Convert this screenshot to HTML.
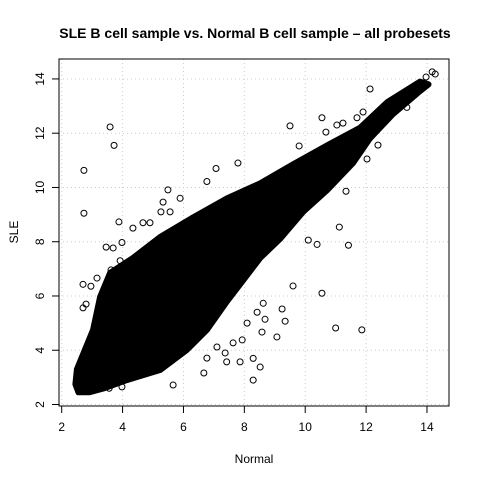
<!DOCTYPE html>
<html><head><meta charset="utf-8"><style>
body{margin:0;background:#fff}
svg{display:block;font-family:"Liberation Sans",Arial,sans-serif}
</style></head><body>
<svg id="chart" width="480" height="480">
<text x="255" y="38" text-anchor="middle" font-size="14" font-weight="bold">SLE B cell sample vs. Normal B cell sample – all probesets</text>
<text x="254" y="463" text-anchor="middle" font-size="12">Normal</text>
<text x="18" y="232" text-anchor="middle" font-size="12" transform="rotate(-90 18 232)">SLE</text>
<g id="grid"></g>
<g id="band"></g>
<g id="pts"></g>
<g id="axes"></g>
<rect x="59" y="59" width="390" height="347" fill="none" stroke="#000" stroke-width="1"/>
</svg>
<script>
const xTicks=[2,4,6,8,10,12,14];
const yTicks=[2,4,6,8,10,12,14];
// dense core outline (data coords): upper edge then lower edge back
const bandX=[2.55,2.45,2.5,3.03,3.26,3.59,4.34,5.23,6.32,7.43,8.52,9.6,10.72,11.8,12.7,13.77,14.05,13.77,12.88,12.12,11.57,10.72,9.93,9.17,8.52,7.43,6.77,6.1,5.23,4.14,3.4,2.9];
const bandY=[2.45,2.75,3.3,4.75,5.96,6.85,7.4,8.17,8.9,9.6,10.15,10.85,11.55,12.2,13.15,13.9,13.8,13.55,12.7,11.8,10.9,9.9,9.1,8.1,7.4,5.8,4.75,4.0,3.27,2.9,2.6,2.45];
// outlying points
const ptX=[3.59,3.72,2.73,2.73,3.88,3.46,3.69,4.34,3.98,5.49,5.33,5.26,5.56,5.89,6.77,7.07,7.79,2.7,2.96,3.16,3.92,4.67,4.9,2.7,3.62,2.8,
8.29,8.52,8.29,7.86,7.42,6.67,5.66,3.98,3.56,9.07,9.34,9.24,9.6,8.68,8.62,8.42,8.09,8.58,7.93,7.63,7.37,7.1,6.77,
12.13,9.5,10.55,10.68,11.04,11.24,11.9,11.7,12.03,12.39,11.12,11.42,10.55,11.0,11.86,10.39,10.1,9.8,13.34,14.17,14.27,13.97,11.34];
const ptY=[12.23,11.55,10.63,9.05,8.73,7.8,7.77,8.5,7.97,9.91,9.46,9.1,9.1,9.6,10.22,10.7,10.9,6.43,6.36,6.66,7.3,8.7,8.7,5.56,6.96,5.7,
2.9,3.38,3.7,3.57,3.57,3.16,2.72,2.65,2.6,4.49,5.07,5.52,6.37,5.14,5.73,5.4,5.0,4.67,4.38,4.27,3.9,4.12,3.71,
13.63,12.27,12.57,12.04,12.3,12.37,12.78,12.57,11.05,11.56,8.54,7.87,6.1,4.82,4.75,7.9,8.06,11.53,12.95,14.26,14.18,14.07,9.86];
const NS="http://www.w3.org/2000/svg";
function sx(v){return 61.7+(v-2)*30.44;}
function sy(v){return 404.5-(v-2)*27.13;}
function mk(t,a,p){const e=document.createElementNS(NS,t);for(const k in a)e.setAttribute(k,a[k]);p.appendChild(e);return e;}
const grid=document.getElementById('grid'),axes=document.getElementById('axes');
xTicks.forEach(v=>{
 const l=mk('line',{x1:sx(v),x2:sx(v),y1:59,y2:406,stroke:'#ccc','stroke-dasharray':'1,3'},grid);
 
 
 const t=mk('line',{x1:sx(v),x2:sx(v),y1:406,y2:413,stroke:'#000'},axes);
 
 
 const tx=mk('text',{x:sx(v),y:431,'text-anchor':'middle','font-size':12},axes);tx.textContent=v;
 
 
});
yTicks.forEach(v=>{
 const l=mk('line',{x1:59,x2:449,y1:sy(v),y2:sy(v),stroke:'#ccc','stroke-dasharray':'1,3'},grid);
 
 
 const t=mk('line',{x1:52,x2:59,y1:sy(v),y2:sy(v),stroke:'#000'},axes);
 
 
 const tx=mk('text',{x:44,y:sy(v),'text-anchor':'middle','font-size':12,transform:`rotate(-90 44 ${sy(v)})`},axes);tx.textContent=v;
 
 
});
const pts=bandX.map((x,i)=>sx(x)+','+sy(bandY[i])).join(' ');
const poly=mk('polygon',{points:pts,fill:'#000',stroke:'#000','stroke-width':6,'stroke-linejoin':'round'},document.getElementById('band'));


const pg=document.getElementById('pts');
ptX.forEach((x,i)=>{
 const c=mk('circle',{cx:sx(x),cy:sy(ptY[i]),r:3,fill:'none',stroke:'#000','stroke-width':1},pg);
 
 
});
</script>
</body></html>
